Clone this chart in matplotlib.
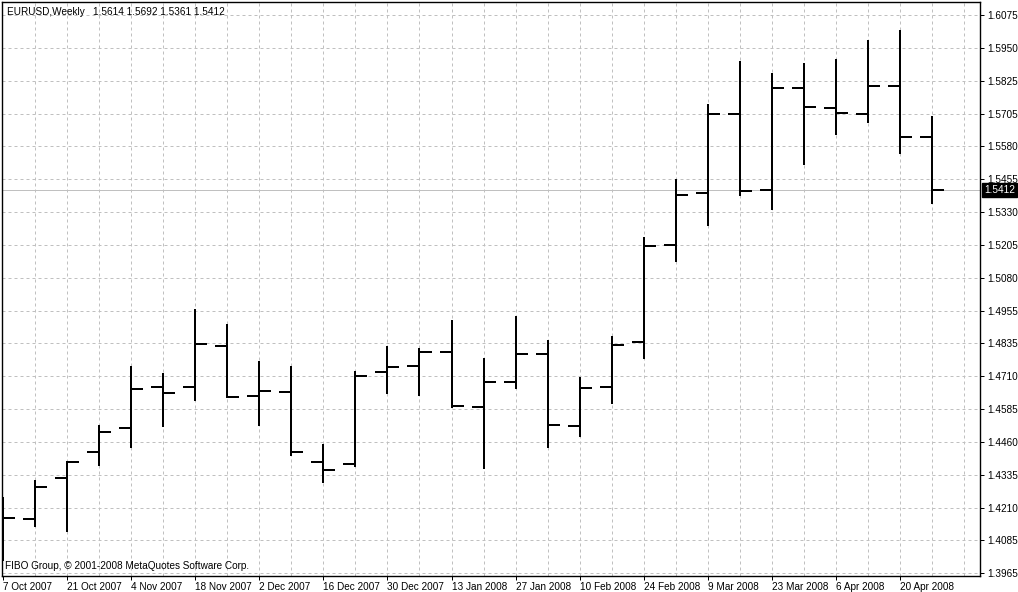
import matplotlib
matplotlib.use("Agg")
import matplotlib.pyplot as plt
import matplotlib.transforms as mtransforms
import numpy as np


SYMBOL = "EURUSD,Weekly"
COPYRIGHT = "FIBO Group, \u00a9 2001-2008 MetaQuotes Software Corp."

# weekly bars, first one is the week of 7 Oct 2007
OPEN = [1.4230, 1.4169, 1.4326, 1.4422, 1.4515, 1.4670, 1.4670, 1.4825, 1.4636, 1.4651,
        1.4387, 1.4379, 1.4727, 1.4750, 1.4803, 1.4594, 1.4689, 1.4795, 1.4523, 1.4670,
        1.4838, 1.5207, 1.5401, 1.5702, 1.5415, 1.5799, 1.5725, 1.5701, 1.5807, 1.5614]
HIGH = [1.4253, 1.4318, 1.4389, 1.4526, 1.4748, 1.4721, 1.4964, 1.4906, 1.4767, 1.4748,
        1.4454, 1.4730, 1.4824, 1.4815, 1.4922, 1.4780, 1.4939, 1.4847, 1.4708, 1.4862,
        1.5237, 1.5455, 1.5739, 1.5901, 1.5856, 1.5895, 1.5909, 1.5980, 1.6018, 1.5692]
LOW = [1.4012, 1.4141, 1.4122, 1.4372, 1.4440, 1.4519, 1.4617, 1.4628, 1.4523, 1.4408,
       1.4307, 1.4366, 1.4641, 1.4636, 1.4589, 1.4360, 1.4660, 1.4437, 1.4479, 1.4605,
       1.4776, 1.5143, 1.5279, 1.5392, 1.5339, 1.5509, 1.5623, 1.5667, 1.5551, 1.5361]
CLOSE = [1.4173, 1.4292, 1.4387, 1.4500, 1.4662, 1.4648, 1.4833, 1.4630, 1.4653, 1.4425,
         1.4355, 1.4711, 1.4746, 1.4803, 1.4597, 1.4689, 1.4795, 1.4526, 1.4666, 1.4828,
         1.5203, 1.5396, 1.5700, 1.5411, 1.5799, 1.5728, 1.5705, 1.5807, 1.5614, 1.5412]

DATE_LABELS = ["7 Oct 2007", "21 Oct 2007", "4 Nov 2007", "18 Nov 2007", "2 Dec 2007",
               "16 Dec 2007", "30 Dec 2007", "13 Jan 2008", "27 Jan 2008", "10 Feb 2008",
               "24 Feb 2008", "9 Mar 2008", "23 Mar 2008", "6 Apr 2008", "20 Apr 2008"]
PRICE_LABELS = ["1.3965", "1.4085", "1.4210", "1.4335", "1.4460", "1.4585", "1.4710",
                "1.4835", "1.4955", "1.5080", "1.5205", "1.5330", "1.5455", "1.5580",
                "1.5705", "1.5825", "1.5950", "1.6075"]

FONT = ["Liberation Sans", "DejaVu Sans"]
GRID = "#c0c0c0"
FS = 7.2


def main():
    plt.rcParams["font.family"] = FONT
    W, H = 1018, 592
    fig = plt.figure(figsize=(W / 100, H / 100), dpi=100)
    ax = fig.add_axes([2.0 / W, 16.5 / H, 978.0 / W, 573.5 / H])

    n = len(CLOSE)
    x = np.arange(n)
    px = 1.44  # 2 px line

    ax.vlines(x, LOW, HIGH, color="black", lw=px, zorder=3)
    ax.hlines(OPEN, x - 0.375, x, color="black", lw=px, zorder=3)
    ax.hlines(CLOSE, x, x + 0.375, color="black", lw=px, zorder=3)

    ax.set_xlim(-0.035, 30.5)
    ax.set_ylim(1.39567, 1.61241)

    # grid
    yt = np.linspace(float(PRICE_LABELS[0]), float(PRICE_LABELS[-1]), len(PRICE_LABELS))
    for y in yt:
        ax.axhline(y, color=GRID, lw=0.72, ls=(0, (3, 3)), zorder=1)
    for xv in range(1, n + 1):
        ax.axvline(xv, color=GRID, lw=0.72, ls=(0, (3, 3)), zorder=1)

    # current price line
    last = CLOSE[-1]
    ax.axhline(last, color=GRID, lw=0.72, zorder=2)

    ax.yaxis.tick_right()
    ax.set_yticks(yt)
    ax.set_yticklabels(PRICE_LABELS)
    ax.tick_params(axis="y", length=3, width=0.72, pad=2.5, labelsize=FS, colors="black")

    ax.set_xticks(np.arange(0, n, 2))
    ax.set_xticklabels(DATE_LABELS, ha="left")
    ax.tick_params(axis="x", length=3, width=0.72, pad=1.5, labelsize=FS)

    for s in ax.spines.values():
        s.set_linewidth(1.0)
        s.set_color("black")

    trans = mtransforms.blended_transform_factory(ax.transAxes, ax.transData)
    ax.text(1.004, last, f"{last:.4f}", transform=trans, ha="left", va="center",
            fontsize=FS, color="white", zorder=5, clip_on=False,
            bbox=dict(boxstyle="square,pad=0.2", fc="black", ec="black"))

    price_str = " ".join(f"{v:.4f}" for v in (OPEN[-1], HIGH[-1], LOW[-1], CLOSE[-1]))
    ax.text(0.005, 0.983, f"{SYMBOL}   {price_str}", transform=ax.transAxes,
            ha="left", va="center", fontsize=FS)
    ax.text(0.003, 0.017, COPYRIGHT, transform=ax.transAxes, ha="left", va="center",
            fontsize=FS)

    fig.savefig("out.png", dpi=100)
    plt.close(fig)


if __name__ == "__main__":
    main()
